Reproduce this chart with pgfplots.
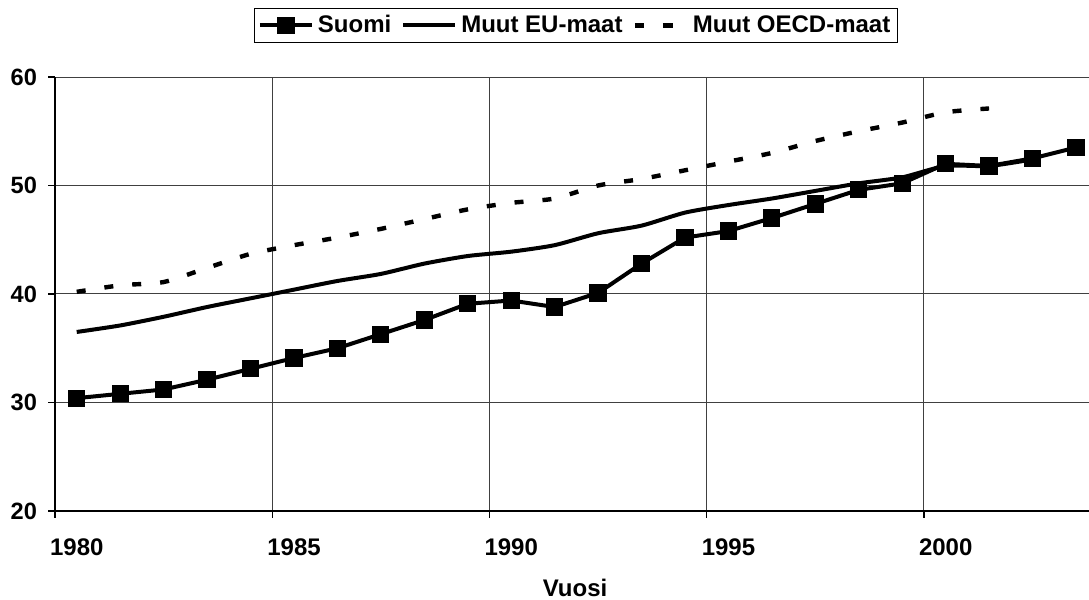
\documentclass[border=0pt]{standalone}
\usepackage{fontspec}
\setmainfont{Liberation Sans}
\usepackage{pgfplots}
\pgfplotsset{compat=1.18}
\begin{document}
\begin{tikzpicture}
\useasboundingbox (-27.5pt,-44.5pt) rectangle (517pt,255.5pt);
\begin{axis}[
  scale only axis, width=517pt, height=217pt,
  xmin=1980, xmax=2003.8, ymin=20, ymax=60,
  axis x line*=bottom, axis y line*=left,
  axis line style={-, black, line width=0.8pt},
  xtick={1980,1985,...,2000}, ytick={20,30,...,60},
  xmajorgrids, ymajorgrids,
  grid style={black!75, line width=0.5pt},
  tick align=outside, major tick length=3.5pt,
  tick style={black, line width=0.6pt},
  /pgf/number format/assume math mode=true,
  /pgf/number format/1000 sep={},
  xticklabel style={xshift=10.9pt, yshift=-7pt, font=\bfseries\fontsize{12}{14}\selectfont},
  yticklabel style={xshift=-2pt, font=\bfseries\fontsize{11.8}{14}\selectfont},
  xlabel={Vuosi},
  xlabel style={at={(axis description cs:0.503,0)}, anchor=north, inner sep=0pt, yshift=-34pt,
    font=\bfseries\fontsize{12}{14}\selectfont},
  legend columns=3,
  legend style={at={(0.504,1.078)}, anchor=south, draw=black, line width=0.5pt,
    font=\bfseries\fontsize{12}{14}\selectfont, inner sep=1.5pt,
    /tikz/every even column/.append style={column sep=3pt}},
  legend image code/.code={\draw[#1, mark repeat=2, mark phase=2] plot coordinates {(0pt,0pt) (13pt,0pt) (26pt,0pt)};},
]
\addplot[black, line width=2pt, mark=square*, mark size=3.3pt, mark options={solid}] coordinates {
(1980.5,30.4) (1981.5,30.8) (1982.5,31.2) (1983.5,32.1) (1984.5,33.1)
(1985.5,34.1) (1986.5,35.0) (1987.5,36.3) (1988.5,37.6) (1989.5,39.1)
(1990.5,39.4) (1991.5,38.8) (1992.5,40.1) (1993.5,42.8) (1994.5,45.2)
(1995.5,45.8) (1996.5,47.0) (1997.5,48.3) (1998.5,49.6) (1999.5,50.2)
(2000.5,52.0) (2001.5,51.8) (2002.5,52.5) (2003.5,53.5)};
\addlegendentry{Suomi}
\addplot[black, line width=2pt, smooth, tension=0.4] coordinates {
(1980.5,36.5) (1981.5,37.1) (1982.5,37.9) (1983.5,38.8) (1984.5,39.6)
(1985.5,40.4) (1986.5,41.2) (1987.5,41.85) (1988.5,42.8) (1989.5,43.5)
(1990.5,43.9) (1991.5,44.5) (1992.5,45.6) (1993.5,46.3) (1994.5,47.5)
(1995.5,48.2) (1996.5,48.8) (1997.5,49.5) (1998.5,50.2) (1999.5,50.75)
(2000.5,51.8) (2001.5,51.8) (2002.5,52.4)};
\addlegendentry{Muut EU-maat}
\addplot[black, line width=2.2pt, smooth, tension=0.4, dash pattern=on 4.5pt off 9.5pt] coordinates {
(1980.5,40.2) (1981.5,40.8) (1982.5,41.1) (1983.5,42.4) (1984.5,43.7)
(1985.5,44.5) (1986.5,45.2) (1987.5,46.0) (1988.5,46.9) (1989.5,47.8)
(1990.5,48.4) (1991.5,48.8) (1992.5,50.0) (1993.5,50.6) (1994.5,51.4)
(1995.5,52.2) (1996.5,53.0) (1997.5,54.1) (1998.5,55.0) (1999.5,55.8)
(2000.5,56.75) (2001.5,57.1)};
\addlegendentry{Muut OECD-maat}
\end{axis}
\end{tikzpicture}
\end{document}
